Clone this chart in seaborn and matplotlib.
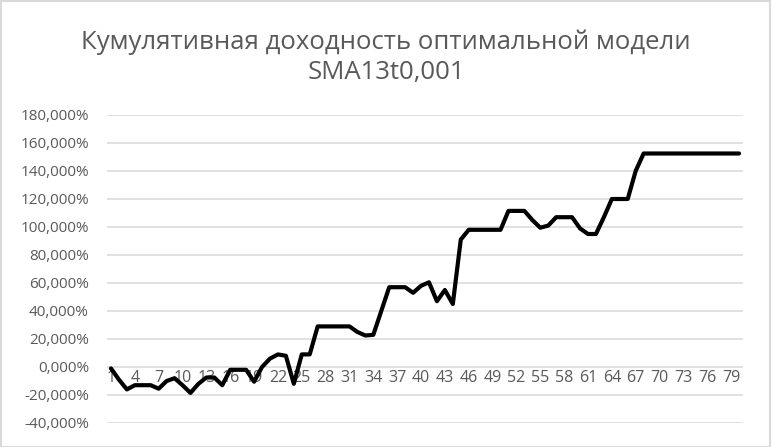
"""Cumulative return of the optimal SMA model, Excel-style line chart."""

import matplotlib
matplotlib.use("Agg")
import matplotlib.pyplot as plt
import matplotlib.ticker as mticker
import seaborn as sns
import pandas as pd

title = "Кумулятивная доходность оптимальной модели\nSMA13t0,001"

periods = list(range(1, 81))
cum_return = [
    -1, -9, -16, -13, -13, -13, -15.5, -10, -8, -13,
    -18.5, -12, -7.5, -7.5, -13, -2, -2, -2, -10.5, 0,
    6, 9, 8, -12, 9, 9, 29, 29, 29, 29,
    29, 25, 22.5, 23, 40, 57, 57, 57, 53, 58,
    60.5, 47, 55, 45, 91, 98, 98, 98, 98, 98,
    111.5, 111.5, 111.5, 105, 99.5, 101, 107, 107, 107, 99,
    95, 95, 107, 120, 120, 120, 140, 152.5, 152.5, 152.5,
    152.5, 152.5, 152.5, 152.5, 152.5, 152.5, 152.5, 152.5, 152.5, 152.5,
]
y_ticks = [-40, -20, 0, 20, 40, 60, 80, 100, 120, 140, 160, 180]
x_ticks = list(range(1, 80, 3))

df = pd.DataFrame({"period": periods, "ret": cum_return})

sns.set_style("white")
plt.rcParams["font.family"] = ["Open Sans", "DejaVu Sans"]

grey = "#595959"
fig = plt.figure(figsize=(7.72, 4.47), dpi=100)
ax = fig.add_axes([107 / 772, 1 - 423 / 447, (743 - 107) / 772, (423 - 115) / 447])

sns.lineplot(data=df, x="period", y="ret", ax=ax, color="black", linewidth=3.0,
             solid_joinstyle="round", solid_capstyle="round")

ax.set_xlim(0.5, 80.5)
ax.set_ylim(-40, 180)
ax.set_yticks(y_ticks)
ax.yaxis.set_major_formatter(mticker.FuncFormatter(
    lambda v, _: f"{v:.3f}%".replace(".", ",")))
ax.set_xticks(x_ticks)
ax.set_xticklabels([str(t) for t in x_ticks])
ax.grid(axis="y", color="#d9d9d9", linewidth=1.1)
ax.set_axisbelow(True)

for side in ["top", "right", "left", "bottom"]:
    ax.spines[side].set_visible(False)
ax.spines["bottom"].set_position(("data", 0))

ax.tick_params(axis="y", length=0, pad=13, labelsize=11, labelcolor=grey)
ax.tick_params(axis="x", length=0, pad=2, labelsize=11.5, labelcolor=grey)
ax.set_xlabel("")
ax.set_ylabel("")

fig.text(0.5, 1 - 57 / 447, title, ha="center", va="center", fontsize=18.5,
         color=grey, linespacing=1.25)

# light chart border like the Excel chart area
fig.patches.append(plt.Rectangle((0.001, 0.001), 0.997, 0.997, transform=fig.transFigure,
                                 fill=False, edgecolor="#d9d9d9", linewidth=1.5))

fig.savefig("out.png", dpi=100)
